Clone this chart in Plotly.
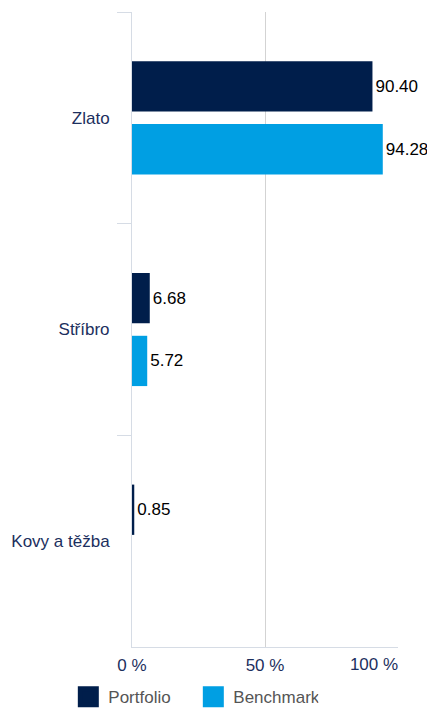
import plotly.graph_objects as go

categories = ["Zlato", "Stříbro", "Kovy a těžba"]
portfolio = [90.40, 6.68, 0.85]
benchmark = [94.28, 5.72, None]
x_tickvals = [0, 50]
x_ticktext = ["0 %", "50 %"]
x_last_tickval = [100]
x_last_ticktext = ["100 %"]

C_PORT = "#001E4B"
C_BENCH = "#009FE3"
FONT = "Liberation Sans, Arial, sans-serif"
TICKCOL = "#1c2f5e"

fig = go.Figure()
for name, vals, col in [("Portfolio", portfolio, C_PORT), ("Benchmark", benchmark, C_BENCH)]:
    fig.add_trace(go.Bar(
        y=categories, x=vals, orientation="h", name=name,
        marker=dict(color=col, line=dict(width=0)),
        text=[f"{v:.2f}" if v is not None else "" for v in vals],
        textposition="outside", cliponaxis=False,
        textfont=dict(color="#000000", size=17, family=FONT),
        showlegend=False,
    ))
    fig.add_trace(go.Scatter(
        x=[None], y=[None], mode="markers", name=name,
        marker=dict(symbol="square", size=16, color=col, line=dict(width=5, color=col)),
        showlegend=True,
    ))

# invisible helper trace so the overlay axis (for the right-most tick label) is drawn
fig.add_trace(go.Scatter(x=[None], y=[None], xaxis="x2", showlegend=False, hoverinfo="skip"))

fig.update_layout(
    width=427, height=710,
    margin=dict(l=132, r=29, t=12, b=63, autoexpand=False),
    paper_bgcolor="white", plot_bgcolor="white",
    barmode="group", bargap=0.406, bargroupgap=0.2,
    font=dict(family=FONT, size=17, color=TICKCOL),
    showlegend=True,
    legend=dict(
        orientation="h", xref="container", yref="container",
        x=0.16, xanchor="left", y=0.018, yanchor="middle",
        font=dict(size=17, color="#555555", family=FONT),
        entrywidth=80, entrywidthmode="pixels",
        itemsizing="trace",
    ),
    xaxis=dict(
        range=[0, 100], tickvals=x_tickvals + x_last_tickval, ticktext=x_ticktext + [""],
        showgrid=True, gridcolor="#d3d3d3", gridwidth=1,
        zeroline=False, showline=True, linecolor="#d6dce5", linewidth=1,
        ticks="", tickfont=dict(size=17, color=TICKCOL),
        ticklabelstandoff=3,
        fixedrange=True,
    ),
    xaxis2=dict(
        overlaying="x", side="bottom", anchor="y", matches="x",
        range=[0, 100], tickvals=x_last_tickval, ticktext=x_last_ticktext,
        showgrid=False, zeroline=False, showline=False, ticks="",
        tickfont=dict(size=17, color=TICKCOL),
        ticklabelstandoff=5, ticklabelshift=-24,
        fixedrange=True,
    ),
    yaxis=dict(
        type="category", categoryorder="array", categoryarray=categories,
        autorange="reversed", tickson="boundaries", ticks="outside",
        ticklen=14, tickcolor="#d6dce5", tickwidth=1,
        ticklabelstandoff=18,
        showline=True, linecolor="#d6dce5", linewidth=1,
        showgrid=False, zeroline=False,
        tickfont=dict(size=17, color=TICKCOL),
        fixedrange=True,
    ),
)

fig.write_html("out.html")
